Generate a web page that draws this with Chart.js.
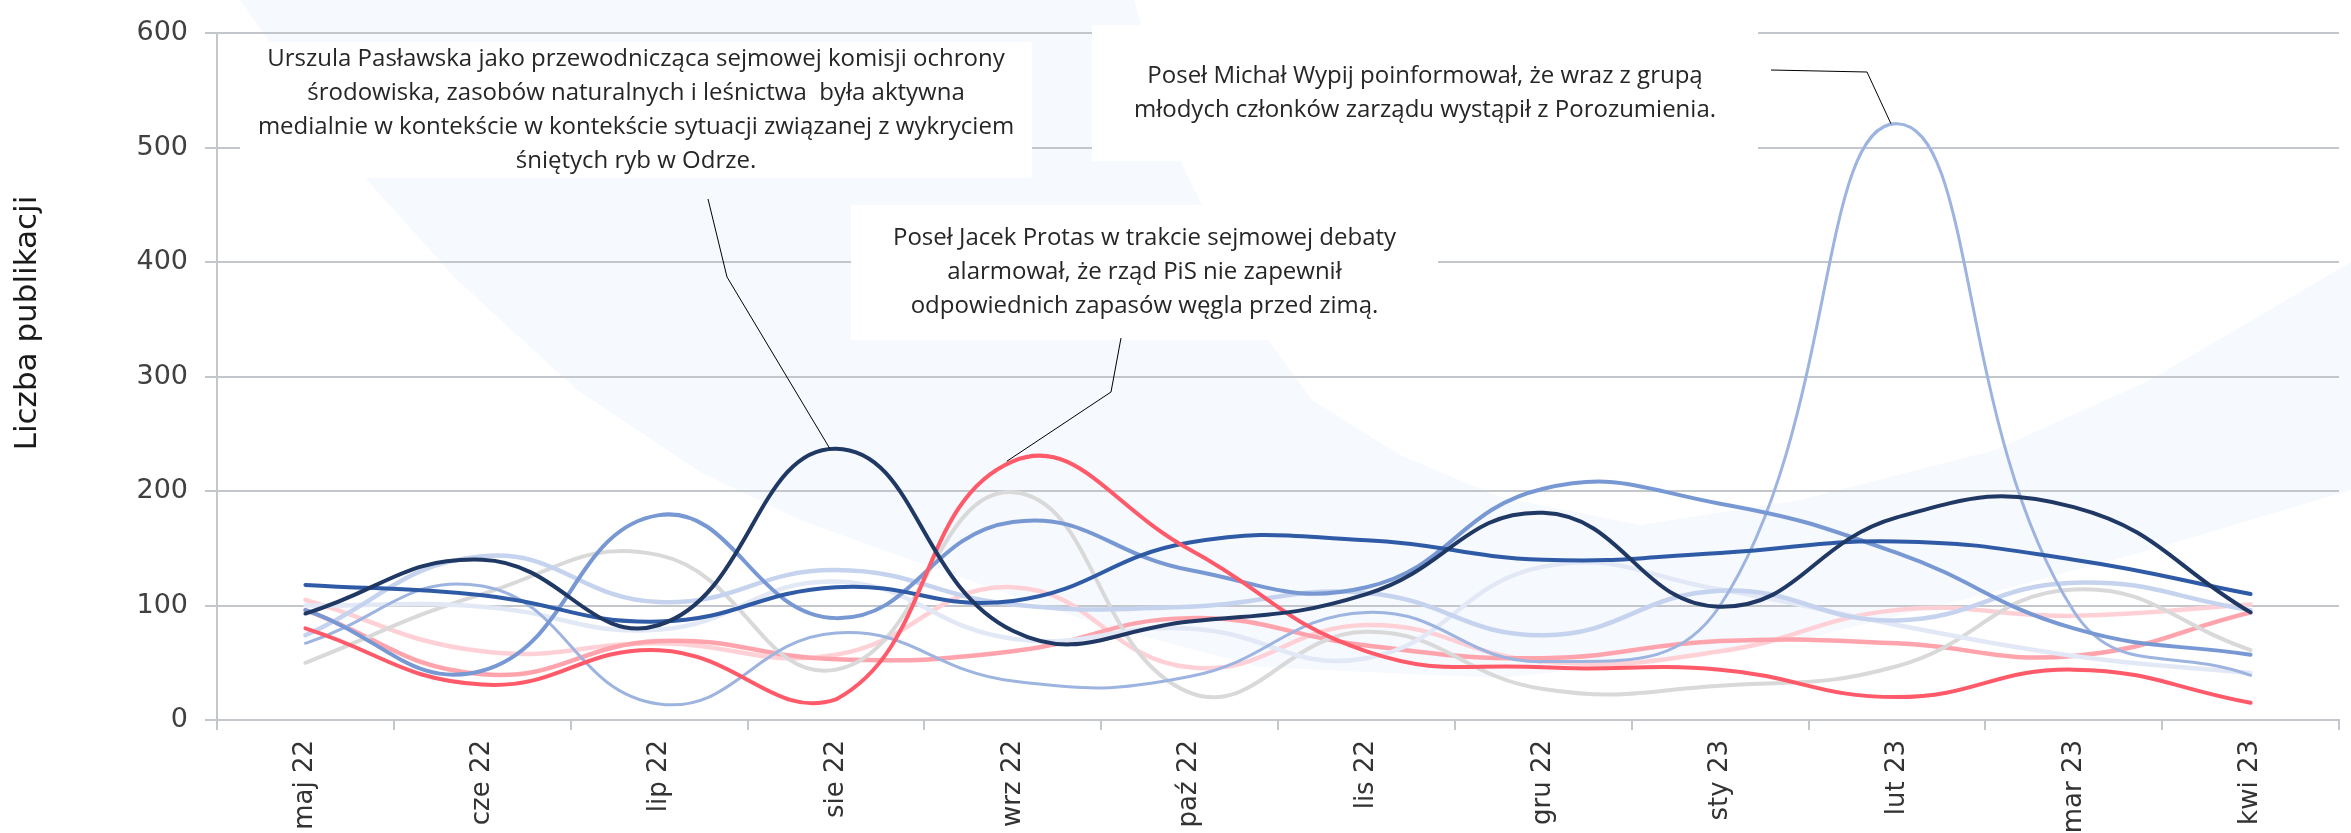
<!DOCTYPE html>
<html>
<head>
<meta charset="utf-8">
<script src="https://cdn.jsdelivr.net/npm/chart.js@4/dist/chart.umd.min.js"></script>
<style>
  html, body { margin: 0; padding: 0; background: #fff; }
</style>
</head>
<body>
<canvas id="chart" width="2351" height="833"></canvas>
<script>
// Months on the x axis
const months = ["maj 22", "cze 22", "lip 22", "sie 22", "wrz 22", "paź 22",
  "lis 22", "gru 22", "sty 23", "lut 23", "mar 23", "kwi 23"];

// Series values
const navy      = [93, 140, 83, 237, 78, 86, 110, 181, 99, 177, 186, 94];
const red       = [80, 31, 61, 18, 226, 149, 60, 46, 44, 20, 44, 15];
const mediumBlue = [118, 109, 86, 116, 104, 155, 157, 140, 146, 156, 140, 110];
const cornflower = [96, 43, 179, 89, 173, 131, 116, 202, 189, 146, 80, 57];
const skyBlue   = [67, 117, 14, 76, 34, 38, 94, 51, 100, 521, 95, 39];
const lightBlue = [74, 143, 103, 131, 101, 99, 111, 74, 113, 87, 120, 96];
const paleBlue  = [100, 99, 79, 121, 71, 80, 54, 134, 114, 83, 56, 41];
const grey      = [50, 110, 144, 44, 199, 24, 77, 27, 30, 47, 114, 61];
const pink      = [96, 40, 69, 53, 60, 89, 65, 54, 69, 67, 56, 94];
const palePink  = [105, 60, 67, 57, 116, 46, 83, 51, 60, 96, 91, 101];

const yTicks = [0, 100, 200, 300, 400, 500, 600];
const yTitle = "Liczba publikacji";

// Callouts: text, box (x1, y1, x2, y2 in px), leader path and target point
const notes = [
  {
    lines: ["Urszula Pasławska jako przewodnicząca sejmowej komisji ochrony",
      "środowiska, zasobów naturalnych i leśnictwa  była aktywna",
      "medialnie w kontekście w kontekście sytuacji związanej z wykryciem",
      "śniętych ryb w Odrze."],
    box: [240, 42, 1032, 178], path: [[708, 199], [727, 277]], ds: 0, idx: 3
  },
  {
    lines: ["Poseł Jacek Protas w trakcie sejmowej debaty",
      "alarmował, że rząd PiS nie zapewnił",
      "odpowiednich zapasów węgla przed zimą."],
    box: [851, 205, 1438, 340], path: [[1121, 338], [1111, 392]], ds: 1, idx: 4
  },
  {
    lines: ["Poseł Michał Wypij poinformował, że wraz z grupą",
      "młodych członków zarządu wystąpił z Porozumienia."],
    box: [1092, 25, 1758, 161], path: [[1771, 70], [1867, 72]], ds: 4, idx: 9
  }
];

// faint watermark shape in the background
const bgShape = [[240, 0], [1134, 0], [1180, 160], [1268, 340], [1312, 400], [1400, 455],
  [1500, 497], [1640, 525], [1800, 500], [1995, 450], [2150, 380], [2351, 262],
  [2351, 490], [2150, 550], [1990, 593], [1800, 640], [1640, 663], [1500, 678],
  [1260, 667], [1100, 625], [930, 567], [800, 520], [700, 472], [577, 390],
  [457, 280], [367, 180], [240, 0]];

const decor = {
  id: "decor",
  beforeDraw(chart) {
    const ctx = chart.ctx;
    ctx.save();
    ctx.fillStyle = "#f6f9fe";
    ctx.beginPath();
    bgShape.forEach(([x, y], i) => (i ? ctx.lineTo(x, y) : ctx.moveTo(x, y)));
    ctx.closePath();
    ctx.fill();
    ctx.restore();
  },
  beforeDatasetsDraw(chart) {
    const ctx = chart.ctx;
    ctx.save();
    notes.forEach((n) => {
      const [x1, y1, x2, y2] = n.box;
      ctx.fillStyle = "#ffffff";
      ctx.fillRect(x1, y1, x2 - x1, y2 - y1);
      ctx.fillStyle = "#262626";
      ctx.font = '24px "Open Sans"';
      ctx.textAlign = "center";
      ctx.textBaseline = "middle";
      const lh = 34;
      const cy = (y1 + y2) / 2 - ((n.lines.length - 1) * lh) / 2;
      n.lines.forEach((t, i) => ctx.fillText(t, (x1 + x2) / 2, cy + i * lh));
    });
    ctx.restore();
  },
  afterDatasetsDraw(chart) {
    const ctx = chart.ctx;
    ctx.save();
    ctx.strokeStyle = "#000";
    ctx.lineWidth = 1;
    notes.forEach((n) => {
      const pt = chart.getDatasetMeta(n.ds).data[n.idx];
      ctx.beginPath();
      ctx.moveTo(n.path[0][0], n.path[0][1]);
      n.path.slice(1).forEach(([x, y]) => ctx.lineTo(x, y));
      ctx.lineTo(pt.x - 6, pt.y);
      ctx.stroke();
    });
    // y axis title
    ctx.translate(28, 323);
    ctx.rotate(-Math.PI / 2);
    ctx.font = '31px "DejaVu Sans"';
    ctx.fillStyle = "#1a1a1a";
    ctx.textAlign = "center";
    ctx.textBaseline = "middle";
    ctx.fillText(yTitle, 0, 0);
    ctx.restore();
  }
};

const series = [
  { data: navy, color: "#203864", w: 4 },
  { data: red, color: "#ff5a69", w: 4 },
  { data: mediumBlue, color: "#2f5aa6", w: 4 },
  { data: cornflower, color: "#7898d4", w: 4 },
  { data: skyBlue, color: "#9db4e0", w: 3 },
  { data: lightBlue, color: "#c5d3ee", w: 4.5 },
  { data: paleBlue, color: "#e2e8f5", w: 4.5 },
  { data: grey, color: "#d9d9d9", w: 4 },
  { data: pink, color: "#ffa4ad", w: 4.5 },
  { data: palePink, color: "#ffd1d6", w: 4.5 }
];

new Chart(document.getElementById("chart"), {
  type: "line",
  data: {
    labels: months,
    datasets: series.map((s, i) => ({
      label: "Seria " + (i + 1),
      data: s.data,
      borderColor: s.color,
      borderWidth: s.w,
      pointRadius: 0,
      tension: 0.45,
      borderCapStyle: "round",
      fill: false
    }))
  },
  options: {
    responsive: false,
    animation: false,
    layout: { padding: { top: 21, right: 12, left: 0, bottom: 0 } },
    plugins: { legend: { display: false }, tooltip: { enabled: false } },
    scales: {
      x: {
        offset: true,
        grid: { offset: true, drawOnChartArea: false, tickLength: 10, color: "#c3c7cb", lineWidth: 2 },
        border: { color: "#c3c7cb", width: 2 },
        ticks: { minRotation: 90, maxRotation: 90, padding: 10, color: "#333333",
          font: { family: "DejaVu Sans", size: 26 } },
        afterFit: (s) => { s.height = 113; }
      },
      y: {
        min: yTicks[0],
        max: yTicks[yTicks.length - 1],
        afterBuildTicks: (s) => { s.ticks = yTicks.map((v) => ({ value: v })); },
        grid: { color: "#c3c7cb", lineWidth: 2, tickLength: 12 },
        border: { color: "#c3c7cb", width: 2 },
        ticks: { padding: 17, color: "#404040", font: { family: "DejaVu Sans", size: 27 } },
        afterFit: (s) => { s.width = 217; }
      }
    }
  },
  plugins: [decor]
});
</script>
</body>
</html>
